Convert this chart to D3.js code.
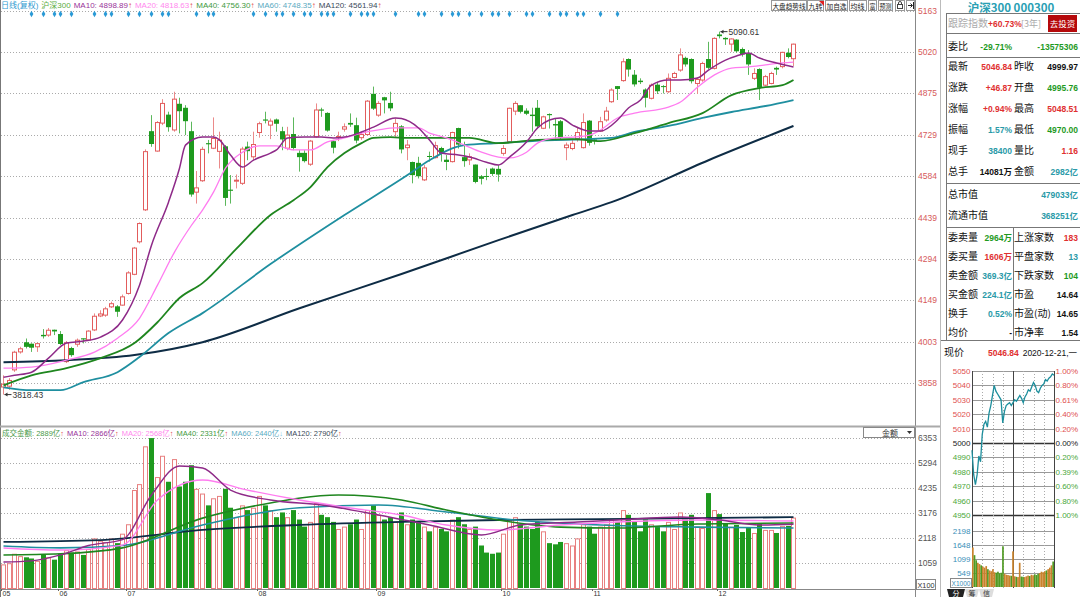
<!DOCTYPE html>
<html>
<head>
<meta charset="utf-8">
<script src="https://cdn.jsdelivr.net/npm/d3@7"></script>
<style>
html, body { margin: 0; padding: 0; background: #fff; }
svg { display: block; font-family: "Liberation Sans", "Noto Sans CJK SC", sans-serif; }
</style>
</head>
<body>
<svg id="chart" width="1080" height="597"></svg>
<script>
// 沪深300 daily candles, 140 sessions (May - 2020-12-21)
const candleOpen = [3845,3848,3905,3968,4000,3995,3986,4026,4027,4044,4029,3934,3980,3995,4014,4010,4045,4094,4097,4126,
  4126,4132,4173,4240,4354,4466,4740,4672,4770,4798,4746,4836,4822,4740,4528,4568,4698,4682,4671,4687,
  4535,4568,4559,4686,4652,4737,4781,4763,4781,4740,4682,4730,4664,4664,4626,4722,4816,4804,4705,4720,
  4749,4769,4761,4719,4730,4871,4798,4859,4839,4740,4757,4684,4632,4629,4571,4653,4649,4681,4640,4635,
  4751,4649,4641,4623,4582,4583,4609,4608,4664,4705,4812,4831,4812,4798,4822,4752,4800,4765,4775,4684,
  4681,4716,4684,4777,4711,4742,4781,4845,4898,4919,4993,4938,4917,4886,4857,4903,4898,4880,4930,4956,
  4997,4993,4909,4921,4993,4962,5079,5067,5047,5061,5028,5012,4927,4958,4903,4909,4962,4968,5015,4995.76];
const candleHigh = [3886,3876,3972,3986,4015,3998,4000,4048,4052,4046,4041,4006,3986,4015,4015,4044,4103,4114,4126,4144,
  4132,4169,4251,4336,4422,4678,4798,4777,4854,4810,4880,4859,4833,4775,4602,4687,4711,4790,4740,4693,
  4588,4590,4687,4705,4740,4775,4810,4786,4786,4757,4757,4790,4675,4675,4711,4839,4824,4808,4711,4740,
  4769,4804,4789,4740,4851,4898,4847,4862,4880,4786,4763,4711,4635,4652,4623,4670,4705,4687,4658,4740,
  4754,4705,4664,4625,4588,4611,4614,4623,4693,4824,4847,4833,4822,4824,4851,4796,4804,4786,4781,4702,
  4711,4757,4804,4781,4716,4792,4827,4892,4900,4997,4997,4956,4927,4892,4909,4915,4903,4944,4950,5032,
  5003,4997,4930,4985,5055,5071,5090.61,5071,5067,5064,5035,5026,4962,4962,4939,4950,4968,5020,5032,5048.51];
const candleLow = [3818.43,3835,3898,3962,3980,3968,3968,4015,4021,4027,3992,3929,3951,3986,3998,4006,4041,4090,4091,4122,
  4091,4130,4169,4237,4348,4462,4687,4670,4763,4740,4740,4734,4728,4512,4488,4564,4664,4679,4611,4480,
  4488,4541,4553,4640,4640,4719,4769,4714,4740,4675,4675,4675,4600,4632,4620,4719,4792,4740,4664,4707,
  4740,4757,4699,4711,4726,4816,4792,4804,4812,4722,4664,4640,4559,4576,4567,4635,4646,4635,4605,4632,
  4681,4617,4623,4559,4555,4570,4585,4565,4656,4702,4798,4804,4798,4740,4751,4749,4751,4716,4711,4640,
  4675,4705,4681,4691,4695,4740,4775,4841,4851,4915,4933,4898,4907,4825,4853,4872,4874,4876,4927,4950,
  4968,4909,4872,4915,4958,4958,5067,5044,5020,5017,5003,4939,4921,4851,4900,4906,4939,4962,4997,4970.00];
const candleClose = [3855,3868,3967,3979,3984,3981,3997,4021,4044,4038,3994,4000,3955,4009,4010,4041,4093,4101,4119,4137,
  4107,4161,4245,4332,4418,4670,4695,4772,4839,4754,4854,4810,4775,4518,4543,4678,4694,4716,4710,4506,
  4531,4570,4679,4670,4695,4768,4777,4777,4766,4711,4728,4681,4649,4635,4707,4816,4812,4742,4682,4723,
  4757,4763,4707,4730,4847,4819,4839,4848,4820,4769,4676,4693,4586,4582,4613,4650,4691,4661,4632,4737,
  4693,4635,4652,4562,4573,4580,4590,4588,4681,4822,4839,4808,4801,4793,4757,4792,4796,4760,4716,4693,
  4699,4737,4772,4699,4705,4775,4812,4886,4888,4985,4956,4904,4912,4857,4903,4880,4895,4927,4944,5009,
  4974,4915,4923,4979,4962,5067,5073,5062,5065,5020,5009,4974,4944,4892,4933,4944,4956,5018,4999.97,5046.84];
// turnover, 亿
const amount = [1000,1050,1450,1350,1300,1250,1150,1400,1300,1200,1450,1600,1500,1550,1400,1650,2100,2000,1950,2100,
  1900,2300,2700,4150,4400,6000,6350,4700,5600,4500,5460,4300,4500,5200,4200,4000,3500,3800,3900,4200,
  3400,3000,3500,3300,3400,3900,3500,3300,3000,3200,3000,3300,2900,2600,2800,3600,3100,3000,2800,2500,
  2600,2700,2900,2500,3300,3500,3100,2900,3000,2800,3200,2700,2900,2800,2600,2400,2600,2500,2400,2900,
  3000,2700,2500,2600,1800,1500,1450,1500,2300,2900,3000,2700,2600,2500,2800,2400,1900,1850,1950,1900,
  1800,2100,2700,2600,2300,2600,2700,2900,2800,3300,3100,2800,2400,2900,2700,2600,2400,2800,2500,3200,
  2900,3100,2600,2540,4020,3300,3130,2750,2590,2670,2370,2540,2330,2750,2460,2460,2330,2630,2630,2982];

// moving averages: [session index, value]
const ma10 = [[0,3879],[2,3886],[5,3897],[8,3946],[11,3999],[14,4006],[17,4020],[21,4080],[24,4202],[26,4342],[29,4493],
  [31,4612],[32,4693],[35,4721],[37,4721],[38,4711],[40,4658],[42,4616],[44,4640],[47,4665],[48,4676],[50,4718],
  [53,4721],[56,4721],[58,4718],[60,4721],[63,4739],[65,4756],[69,4788],[70,4786],[73,4753],[75,4711],[77,4665],
  [80,4658],[82,4651],[85,4633],[87,4623],[89,4651],[92,4704],[94,4753],[96,4781],[98,4788],[100,4763],[103,4742],
  [105,4742],[108,4781],[110,4823],[112,4851],[114,4903],[117,4921],[119,4921],[122,4928],[124,4956],[127,4991],
  [129,5005],[131,5016],[133,4998],[136,4981],[139,4967]];
const ma20 = [[0,3911],[5,3915],[11,3939],[16,3967],[20,4016],[24,4086],[27,4202],[30,4318],[33,4412],[35,4465],
  [37,4528],[39,4612],[42,4668],[45,4690],[48,4690],[51,4676],[54,4676],[57,4704],[60,4718],[63,4735],[66,4746],
  [69,4753],[73,4753],[75,4735],[78,4718],[81,4693],[84,4668],[87,4651],[89,4648],[92,4668],[94,4700],[97,4718],
  [100,4721],[103,4728],[105,4746],[108,4788],[111,4805],[117,4826],[119,4844],[122,4896],[125,4939],[128,4963],
  [131,4967],[134,4974],[137,4981],[139,4984]];
const ma40 = [[0,3851],[5,3886],[11,3911],[17,3946],[23,3999],[27,4072],[31,4157],[35,4209],[41,4330],[47,4448],
  [51,4500],[54,4546],[57,4616],[60,4665],[63,4700],[65,4718],[68,4721],[71,4718],[82,4718],[87,4700],[94,4711],
  [100,4714],[105,4707],[111,4735],[117,4770],[123,4805],[128,4868],[133,4893],[137,4903],[139,4921]];
const ma60 = [[0,3844],[5,3834],[10,3834],[14,3862],[20,3897],[24,3950],[29,4034],[35,4104],[47,4276],[60,4448],
  [71,4588],[75,4640],[81,4693],[87,4700],[93,4707],[107,4718],[111,4739],[117,4760],[123,4788],[128,4809],
  [134,4830],[139,4851]];
const ma120 = [[0,3932],[11,3939],[23,3957],[35,4002],[52,4121],[70,4241],[87,4360],[100,4448],[107,4493],
  [124,4640],[139,4760]];

const volMa10 = [[0,1100],[5,1150],[10,1400],[15,1800],[21,2050],[26,3939],[31,5167],[35,5082],[40,4150],[47,3727],
  [56,3515],[66,3092],[75,2668],[84,2245],[91,2668],[101,2795],[108,2880],[119,3007],[126,2880],[133,2670],[139,2700]];
const volMa20 = [[0,1694],[10,1609],[21,1820],[27,3727],[35,4574],[43,4150],[52,3727],[61,3388],[70,3092],[78,2668],
  [87,2456],[98,2668],[108,2795],[122,2880],[139,2837]];
const volMa40 = [[0,1400],[10,1450],[21,1700],[35,2960],[45,3515],[59,3940],[70,3730],[78,3300],[87,2880],[98,2580],
  [108,2540],[122,2710],[139,2750]];
const volMa60 = [[0,1780],[10,1700],[21,1800],[35,2670],[52,3400],[66,3515],[78,3220],[90,2880],[105,2670],[122,2580],[139,2540]];
const volMa120 = [[0,1950],[17,2030],[35,2460],[52,2670],[70,2800],[87,2880],[105,2920],[122,2960],[139,3000]];

const priceTicks = [5163, 5020, 4875, 4729, 4584, 4439, 4294, 4149, 4003, 3858];
const volTicks = [6353, 5294, 4235, 3176, 2118, 1059];
const monthIdx = [0, 10, 22, 45, 66, 88, 104, 126];
const monthLabels = ['05', '06', '07', '08', '09', '10', '11', '12'];
const signalIdx = [5,7,9,10,12,16,18,19,22,24,26,28,29,34,36,37,44,46,48,49,51,53,54,56,57,58,61,63,64,65,
  69,73,74,77,79,80,82,84,86,87,89,92,93,96,98,99,101,102,105,108];

// intraday 2020-12-21, every 5 minutes
const intradayPrice = [4995,4978,4971,4978,4991,4987,5006,5013,5015,5011,5021,5026,5033,5040,5036,5034,5032,5030,5014,5022,
  5026,5027,5028,5026,5028,5030,5029,5031,5033,5031,5028,5032,5034,5037,5036,5039,5042,5040,5036,5035,
  5038,5040,5041,5044,5043,5045,5046,5048,5047];
const intradayVol = [1550,1250,1050,950,900,850,800,760,820,700,650,620,700,580,560,600,540,560,1600,520,
  480,470,450,440,1400,420,400,390,950,410,400,390,420,450,430,480,460,500,470,520,
  550,600,580,620,650,700,760,850,1000];
const intradayTicks = [5050, 5040, 5030, 5020, 5010, 5000, 4990, 4980, 4970, 4960, 4950];
const intradayPct = ['1.00%', '0.80%', '0.61%', '0.40%', '0.20%', '0.00%', '0.20%', '0.39%', '0.60%', '0.80%', '1.00%'];
const intradayVolTicks = [2198, 1648, 1099, 549];

const RED = '#e25c5c', GREEN = '#1e9a1e', TEAL = '#2a9aa8';
const C_MA10 = '#8e2a88', C_MA20 = '#ff7cf0', C_MA40 = '#1f861f', C_MA60 = '#1f8fa0', C_MA120 = '#0e2c45';

const svg = d3.select('#chart');
const N = candleClose.length;

const x = d3.scaleBand().domain(d3.range(N)).range([1, 797]);
const px = i => Math.round(x(i));
const cx = i => px(i) + 2.5;
const y = d3.scaleLinear().domain([3858, 5163]).range([383.3, 11]);
const yv = d3.scaleLinear().domain([0, 6353]).range([588, 438]);

const defs = svg.append('defs');
defs.append('clipPath').attr('id', 'clipP').append('rect').attr('x', 1).attr('y', 10).attr('width', 914).attr('height', 415);
defs.append('clipPath').attr('id', 'clipV').append('rect').attr('x', 1).attr('y', 438).attr('width', 914).attr('height', 151);

// frames
svg.append('line').attr('x1', 0.5).attr('x2', 0.5).attr('y1', 0).attr('y2', 597).attr('stroke', '#777');
svg.append('line').attr('x1', 915.5).attr('x2', 915.5).attr('y1', 0).attr('y2', 597).attr('stroke', '#888');
svg.append('line').attr('x1', 940.5).attr('x2', 940.5).attr('y1', 0).attr('y2', 597).attr('stroke', '#bbb');
svg.append('line').attr('x1', 0).attr('x2', 940).attr('y1', 426.5).attr('y2', 426.5).attr('stroke', '#aaa').attr('stroke-width', 2);
svg.append('line').attr('x1', 0).attr('x2', 915).attr('y1', 589.5).attr('y2', 589.5).attr('stroke', '#888');

// price grid + labels
svg.append('g').selectAll('line').data(priceTicks).join('line')
  .attr('x1', 1).attr('x2', 915)
  .attr('y1', d => Math.round(y(d)) + 0.5).attr('y2', d => Math.round(y(d)) + 0.5)
  .attr('stroke', '#aaa').attr('stroke-dasharray', '1,2');
svg.append('g').selectAll('text').data(priceTicks).join('text')
  .attr('x', 918).attr('y', d => y(d) + 3)
  .attr('font-size', 8.5).attr('fill', '#d65a5a').text(d => d);

// volume grid + labels
svg.append('g').selectAll('line').data(volTicks).join('line')
  .attr('x1', 1).attr('x2', 915)
  .attr('y1', d => Math.round(yv(d)) + 0.5).attr('y2', d => Math.round(yv(d)) + 0.5)
  .attr('stroke', '#aaa').attr('stroke-dasharray', '1,2');
svg.append('g').selectAll('text').data(volTicks).join('text')
  .attr('x', 918).attr('y', d => yv(d) + 3)
  .attr('font-size', 8.5).attr('fill', '#555').text(d => d);
svg.append('rect').attr('x', 916.5).attr('y', 579.5).attr('width', 19).attr('height', 10).attr('fill', '#fff').attr('stroke', '#888');
svg.append('text').attr('x', 917.5).attr('y', 587.5).attr('font-size', 7.5).attr('fill', '#333')
  .attr('textLength', 17).attr('lengthAdjust', 'spacingAndGlyphs').text('X100');

// legend rows laid out left to right: [text, colour, arrow, arrow colour]
function legend(x0, yy, size, items) {
  let xx = x0;
  items.forEach(it => {
    const t = svg.append('text').attr('x', xx).attr('y', yy).attr('font-size', size);
    t.append('tspan').attr('fill', it[1]).text(it[0]);
    if (it[2]) t.append('tspan').attr('fill', it[3] || '#e04040').text(it[2]);
    xx += t.node().getComputedTextLength() + 3;
  });
}
legend(1, 8, 8, [['日线(复权)', '#2f9ad0'], ['沪深300', '#5aac3c'],
  ['MA10: 4898.89', '#993399', '↑'], ['MA20: 4818.63', '#ff88ee', '↑'],
  ['MA40: 4756.30', '#3f9a3f', '↑'], ['MA60: 4748.35', '#5aaabf', '↑'],
  ['MA120: 4561.94', '#3a4a5a', '↑']]);
legend(2, 436, 7.5, [['成交金额: 2889亿', '#4a9a4a', '↑'], ['MA10: 2866亿', '#993399', '↑'],
  ['MA20: 2568亿', '#ff88ee', '↑'], ['MA40: 2331亿', '#3f9a3f', '↑'],
  ['MA60: 2440亿', '#5aaabf', '↓', '#7cc8e8'], ['MA120: 2790亿', '#3a4a5a', '↑']]);

// signal diamonds
svg.append('g').selectAll('path').data(signalIdx).join('path')
  .attr('transform', d => `translate(${cx(d)},14)`)
  .attr('d', d3.symbol(d3.symbolDiamond, 12))
  .attr('fill', '#2a9ad6');

// toolbar buttons
const btns = [[771, 807, '大盘趋势线'], [807, 824, '九转'], [825, 848, '加自选'], [849, 867, '均线'], [868, 877, '富'], [878, 893, '预测'], [895, 905, ''], [906, 915, '']];
btns.forEach(b => {
  svg.append('rect').attr('x', b[0] + 0.5).attr('y', 0.5).attr('width', b[1] - b[0] - 1).attr('height', 10).attr('fill', '#fff').attr('stroke', '#999');
  if (b[2]) svg.append('text').attr('x', b[0] + 1.5).attr('y', 8.5).attr('font-size', 7)
    .attr('textLength', Math.min(b[1] - b[0] - 3, b[2].length * 7)).attr('lengthAdjust', 'spacingAndGlyphs')
    .attr('fill', '#222').text(b[2]);
});
svg.append('path').attr('d', 'M819,1 L824,1 L824,6 Z').attr('fill', '#e02020');
svg.append('rect').attr('x', 897.5).attr('y', 4.5).attr('width', 5).attr('height', 4).attr('fill', 'none').attr('stroke', '#444');
svg.append('path').attr('d', 'M898.5,4.5 V3 a1.5,1.5 0 0 1 3,0 V4.5').attr('fill', 'none').attr('stroke', '#444');
svg.append('path').attr('d', 'M908,5.5 H912 M910.5,3.5 L912.5,5.5 L910.5,7.5 M913.5,2 V9').attr('fill', 'none').attr('stroke', '#222');

// volume dropdown
svg.append('rect').attr('x', 863.5).attr('y', 427.5).attr('width', 51).attr('height', 10).attr('fill', '#fff').attr('stroke', '#888');
svg.append('text').attr('x', 882).attr('y', 435.5).attr('font-size', 8).attr('fill', '#333').text('金额');
svg.append('path').attr('d', 'M907,431 L912,431 L909.5,434 Z').attr('fill', '#333');

// candles
const rows = d3.range(N).map(i => ({ i, o: candleOpen[i], h: candleHigh[i], l: candleLow[i], c: candleClose[i], v: amount[i], up: candleClose[i] >= candleOpen[i] }));
const gC = svg.append('g').attr('clip-path', 'url(#clipP)');
const k = gC.selectAll('g').data(rows).join('g');
k.append('line')
  .attr('x1', d => cx(d.i)).attr('x2', d => cx(d.i))
  .attr('y1', d => y(d.h)).attr('y2', d => y(d.l))
  .attr('stroke', d => d.up ? '#eb8a8a' : '#5cb85c');
k.append('rect')
  .attr('x', d => d.up ? px(d.i) + 0.5 : px(d.i))
  .attr('width', d => d.up ? 4 : 5)
  .attr('y', d => y(Math.max(d.o, d.c)) + (d.up ? 0 : -0.5))
  .attr('height', d => Math.max(1, Math.abs(y(d.o) - y(d.c))))
  .attr('fill', d => d.up ? '#fff' : GREEN)
  .attr('stroke', d => d.up ? RED : 'none');

// MA lines
const line = d3.line().x(d => cx(d[0])).y(d => y(d[1])).curve(d3.curveMonotoneX);
[[ma120, C_MA120, 2], [ma60, C_MA60, 1.8], [ma40, C_MA40, 1.8], [ma20, C_MA20, 1.3], [ma10, C_MA10, 1.5]].forEach(m => {
  gC.append('path').datum(m[0]).attr('d', line).attr('fill', 'none').attr('stroke', m[1]).attr('stroke-width', m[2]);
});

// high / low marks
function mark(i, v, label) {
  const yy = y(v);
  svg.append('line').attr('x1', cx(i) + 1).attr('x2', cx(i) + 8).attr('y1', yy).attr('y2', yy).attr('stroke', '#333');
  svg.append('path').attr('d', `M${cx(i) + 1},${yy} l3,-2 v4 Z`).attr('fill', '#333');
  svg.append('text').attr('x', cx(i) + 9).attr('y', yy + 3).attr('font-size', 8.5).attr('fill', '#333').text(label);
}
const hiIdx = d3.maxIndex(candleHigh), loIdx = d3.minIndex(candleLow);
mark(hiIdx, candleHigh[hiIdx], candleHigh[hiIdx].toFixed(2));
mark(loIdx, candleLow[loIdx], candleLow[loIdx].toFixed(2));

// volume bars
const gV = svg.append('g').attr('clip-path', 'url(#clipV)');
gV.selectAll('rect').data(rows).join('rect')
  .attr('x', d => d.up ? px(d.i) + 0.5 : px(d.i))
  .attr('width', d => d.up ? 4 : 5)
  .attr('y', d => yv(d.v) + (d.up ? 0.5 : 0))
  .attr('height', d => 588 - yv(d.v))
  .attr('fill', d => d.up ? '#fff' : GREEN)
  .attr('stroke', d => d.up ? '#e88080' : 'none');
const vline = d3.line().x(d => cx(d[0])).y(d => yv(d[1])).curve(d3.curveMonotoneX);
[[volMa120, C_MA120, 1.8], [volMa60, C_MA60, 1.6], [volMa40, C_MA40, 1.6], [volMa20, C_MA20, 1.3], [volMa10, C_MA10, 1.4]].forEach(m => {
  gV.append('path').datum(m[0]).attr('d', vline).attr('fill', 'none').attr('stroke', m[1]).attr('stroke-width', m[2]);
});

// month axis
monthIdx.forEach((m, j) => {
  svg.append('line').attr('x1', cx(m) - 2).attr('x2', cx(m) - 2).attr('y1', 589).attr('y2', 591).attr('stroke', '#666');
  svg.append('text').attr('x', cx(m) - 1).attr('y', 595.5).attr('font-size', 7).attr('fill', '#333').text(monthLabels[j]);
});

// ---------- right info panel ----------
const P = svg.append('g');
P.append('text').attr('x', 1011).attr('y', 12).attr('text-anchor', 'middle')
  .attr('font-size', 11.5).attr('font-weight', 'bold').attr('fill', '#2a9fb4')
  .attr('font-family', '"Noto Sans CJK SC", sans-serif').text('沪深300 000300');

function hline(yy, x1 = 946, x2 = 1080) {
  P.append('line').attr('x1', x1).attr('x2', x2).attr('y1', yy + 0.5).attr('y2', yy + 0.5).attr('stroke', '#777');
}
hline(13); hline(33); hline(57); hline(183); hline(227); hline(340, 941);
P.append('line').attr('x1', 946.5).attr('x2', 946.5).attr('y1', 13).attr('y2', 341).attr('stroke', '#777');
P.append('line').attr('x1', 1013.5).attr('x2', 1013.5).attr('y1', 227).attr('y2', 341).attr('stroke', '#777');

const cjk = '"Noto Sans CJK SC", sans-serif';
function lab(xx, yy, t, col = '#111', anchor = 'start', size = 10) {
  return P.append('text').attr('x', xx).attr('y', yy).attr('font-size', size).attr('fill', col)
    .attr('text-anchor', anchor).attr('font-family', cjk).text(t);
}
function val(xx, yy, t, col, anchor = 'end') {
  P.append('text').attr('x', xx).attr('y', yy).attr('font-size', 8.5).attr('font-weight', 'bold')
    .attr('fill', col).attr('text-anchor', anchor).text(t);
}

lab(948, 27, '跟踪指数', '#aaa');
val(988, 27, '+60.73%', '#e03030', 'start');
lab(1021, 27, '[3年]', '#aaa', 'start', 9);
P.append('rect').attr('x', 1048).attr('y', 15).attr('width', 29).attr('height', 17).attr('fill', '#b5090b');
lab(1062.5, 27, '去投资', '#fff', 'middle', 8.5);

lab(948, 50, '委比');
val(1012, 50, '-29.71%', GREEN);
val(1078, 50, '-13575306', GREEN);

const block1 = [
  ['最新', '5046.84', '#e03030', '昨收', '4999.97', '#111'],
  ['涨跌', '+46.87', '#e03030', '开盘', '4995.76', GREEN],
  ['涨幅', '+0.94%', '#e03030', '最高', '5048.51', '#e03030'],
  ['振幅', '1.57%', TEAL, '最低', '4970.00', GREEN],
  ['现手', '38400', TEAL, '量比', '1.16', '#e03030'],
  ['总手', '14081万', '#111', '金额', '2982亿', TEAL]
];
block1.forEach((r, j) => {
  const yy = 70 + j * 21;
  lab(948, yy, r[0]); val(1012, yy, r[1], r[2]);
  lab(1014, yy, r[3]); val(1078, yy, r[4], r[5]);
});
lab(948, 198, '总市值'); val(1078, 198, '479033亿', TEAL);
lab(948, 219, '流通市值'); val(1078, 219, '368251亿', TEAL);

const block2 = [
  ['委卖量', '2964万', GREEN, '上涨家数', '183', '#e03030'],
  ['委买量', '1606万', '#e03030', '平盘家数', '13', TEAL],
  ['卖金额', '369.3亿', TEAL, '下跌家数', '104', GREEN],
  ['买金额', '224.1亿', TEAL, '市盈', '14.64', '#111'],
  ['换手', '0.52%', TEAL, '市盈(动)', '14.65', '#111'],
  ['均价', '-', '#111', '市净率', '1.54', '#111']
];
block2.forEach((r, j) => {
  const yy = 241 + j * 19;
  lab(948, yy, r[0]); val(1012, yy, r[1], r[2]);
  lab(1014, yy, r[3]); val(1078, yy, r[4], r[5]);
});
lab(944, 356, '现价');
val(988, 356, '5046.84', '#e03030', 'start');
P.append('text').attr('x', 1077).attr('y', 356).attr('font-size', 8.5).attr('fill', '#111').attr('text-anchor', 'end')
  .text('2020-12-21,一');

// intraday chart
const ix = d3.scaleLinear().domain([0, intradayPrice.length - 1]).range([972, 1054]);
const iy = d3.scaleLinear().domain([4950, 5050]).range([515, 371]);
const ivy = d3.scaleLinear().domain([0, 2198]).range([587, 531]);
intradayTicks.forEach((t, j) => {
  const yy = Math.round(iy(t)) + 0.5;
  const dark = t === 5000 || t === 4950;
  P.append('line').attr('x1', 972).attr('x2', 1054).attr('y1', yy).attr('y2', yy)
    .attr('stroke', dark ? '#333' : '#999').attr('stroke-width', dark ? 1.5 : 1);
  const col = t > 5000 ? '#e05050' : t === 5000 ? '#222' : '#4aa83a';
  P.append('text').attr('x', 970.5).attr('y', iy(t) + 3).attr('text-anchor', 'end').attr('font-size', 8).attr('fill', col).text(t);
  P.append('text').attr('x', 1055.5).attr('y', iy(t) + 3).attr('font-size', 8).attr('fill', col).text(intradayPct[j]);
});
intradayVolTicks.forEach(t => {
  const yy = Math.round(ivy(t)) + 0.5;
  P.append('line').attr('x1', 972).attr('x2', 1054).attr('y1', yy).attr('y2', yy).attr('stroke', '#999');
  P.append('text').attr('x', 970.5).attr('y', ivy(t) + 3).attr('text-anchor', 'end').attr('font-size', 8).attr('fill', '#3a8fb8').text(t);
});
P.append('rect').attr('x', 950.5).attr('y', 578.5).attr('width', 21).attr('height', 9).attr('fill', '#fff').attr('stroke', '#888');
P.append('text').attr('x', 951.5).attr('y', 586).attr('font-size', 7).attr('fill', '#3a8fb8')
  .attr('textLength', 19).attr('lengthAdjust', 'spacingAndGlyphs').text('X1000');
d3.range(9).forEach(j => {
  const xx = Math.round(972 + j * 82 / 8) + 0.5;
  const solid = j === 0 || j === 4 || j === 8;
  P.append('line').attr('x1', xx).attr('x2', xx).attr('y1', 371).attr('y2', 588)
    .attr('stroke', solid ? '#444' : '#aaa').attr('stroke-dasharray', solid ? null : '1,2');
});
const bw = 82 / intradayVol.length;
P.append('g').selectAll('rect').data(intradayVol).join('rect')
  .attr('x', (d, j) => 972 + j * bw).attr('width', bw)
  .attr('y', d => ivy(d)).attr('height', d => 587 - ivy(d))
  .attr('fill', (d, j) => (j > 0 && intradayPrice[j] < intradayPrice[j - 1]) ? '#4f9a22' : '#c9822c');
P.append('path').datum(intradayPrice)
  .attr('d', d3.line().x((d, j) => ix(j)).y(d => iy(d)))
  .attr('fill', 'none').attr('stroke', '#1d8e9c').attr('stroke-width', 1.3);

// bottom tabs
[[947, 965, '分', '#222', '#fff'], [965, 979, '筹', '#ddd', '#333'], [979, 994, '信', '#ddd', '#333']].forEach(t => {
  P.append('path').attr('d', `M${t[0]},589 L${t[1]},589 L${t[1] - 2},597 L${t[0] + 2},597 Z`).attr('fill', t[3]);
  lab((t[0] + t[1]) / 2, 595.5, t[2], t[4], 'middle', 7);
});
</script>
</body>
</html>
